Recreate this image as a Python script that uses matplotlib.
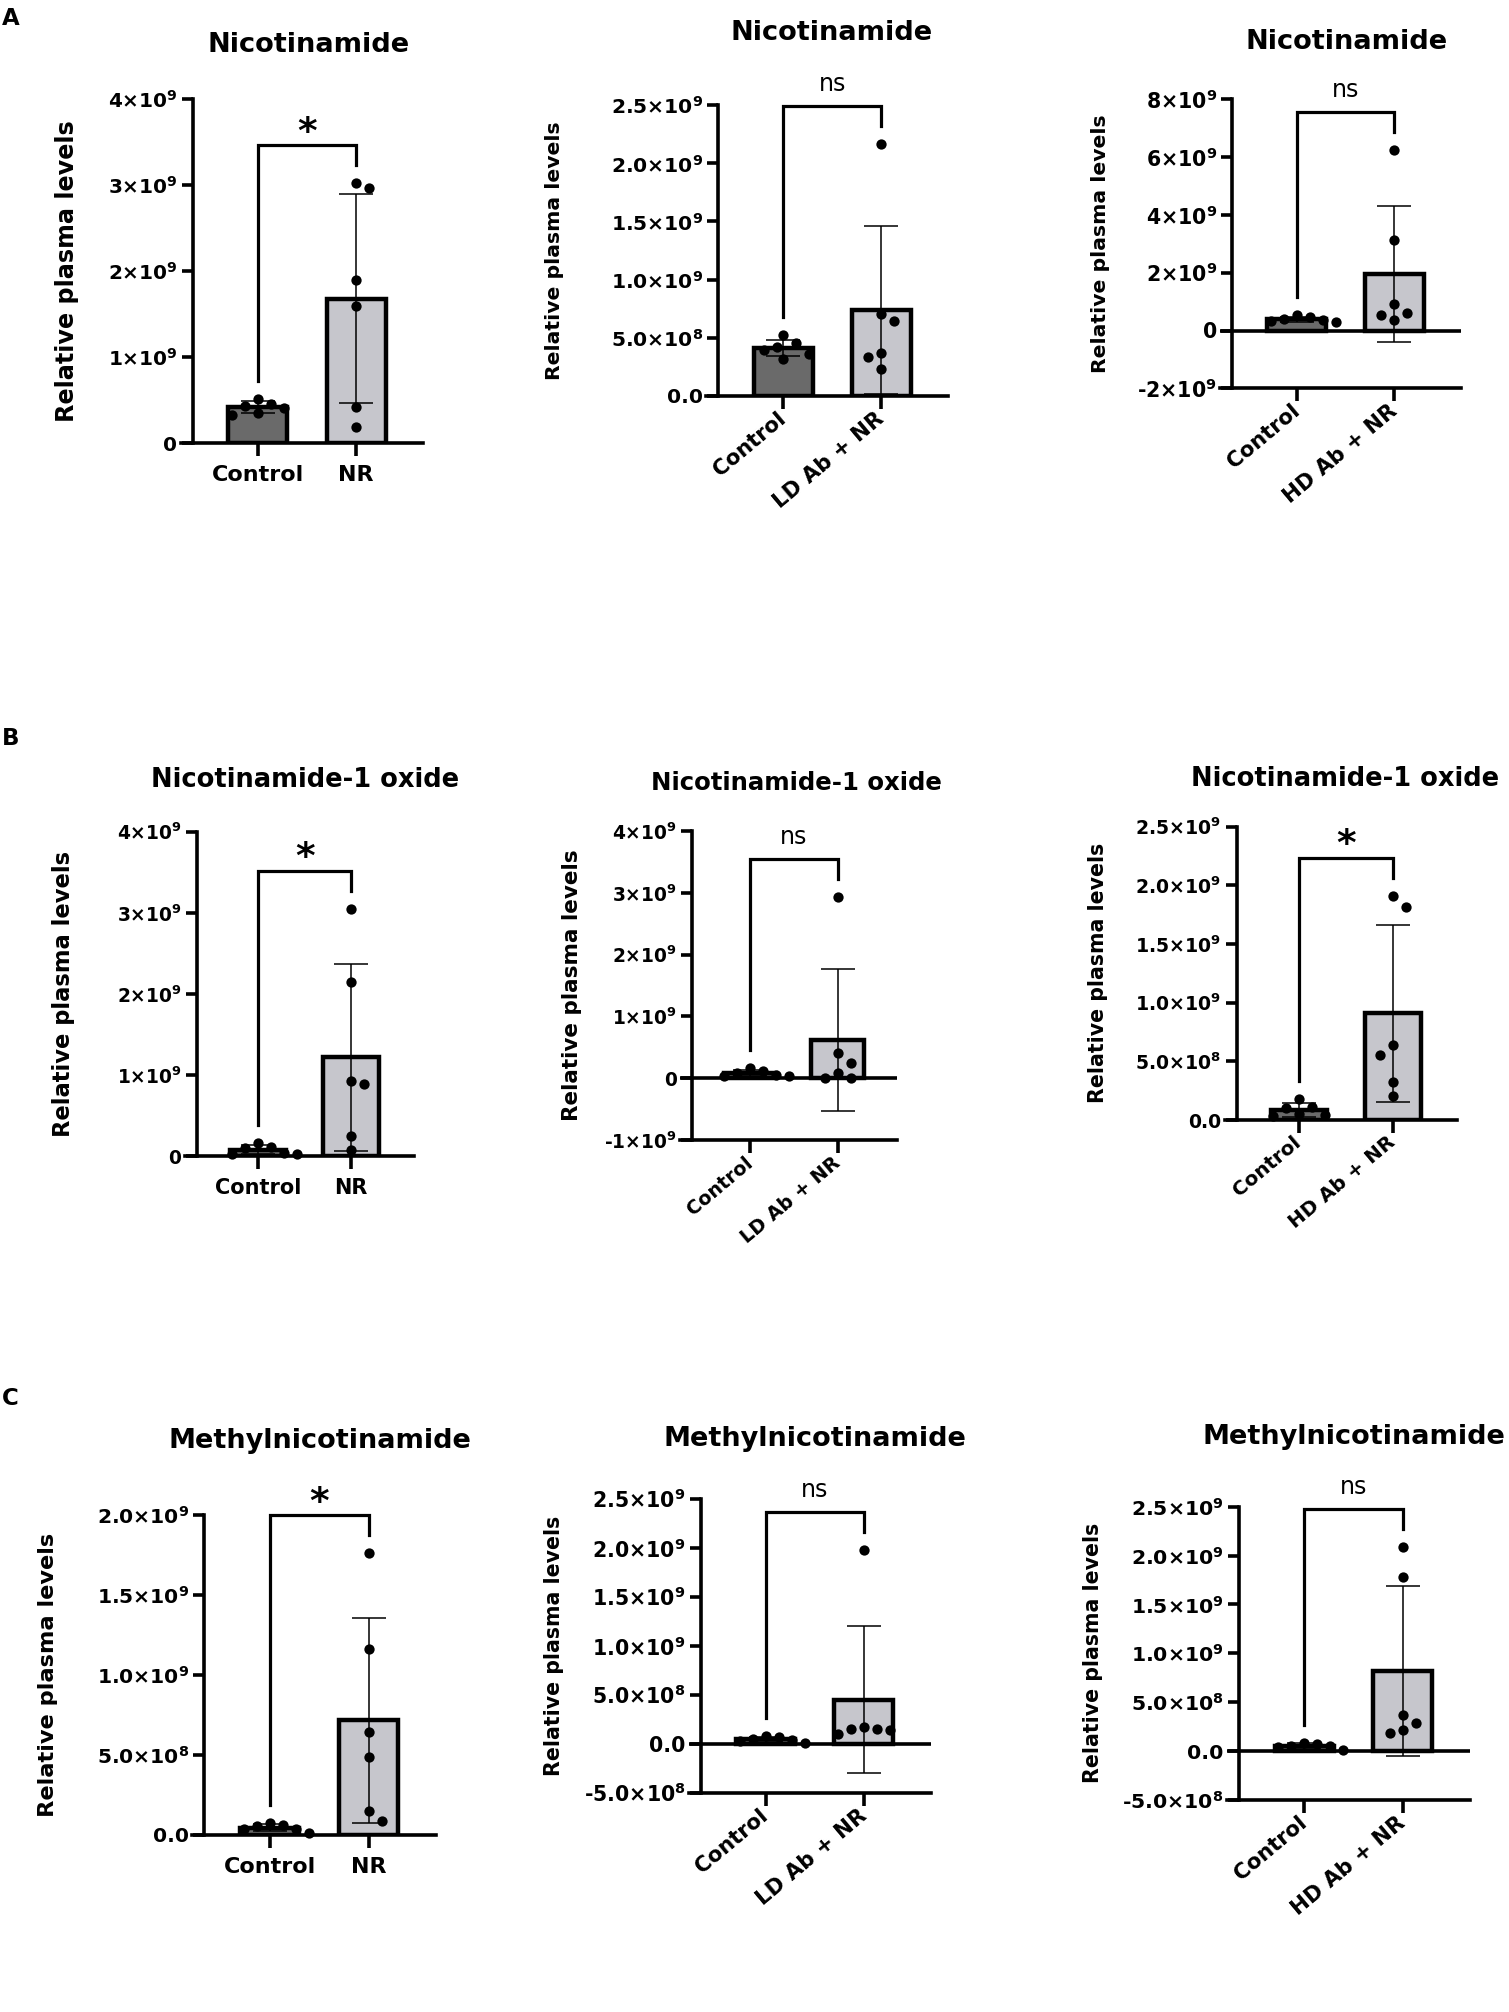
import numpy as np
import matplotlib
matplotlib.use('Agg')
import matplotlib.pyplot as plt

plt.rcParams['font.family'] = ['DejaVu Sans']
plt.rcParams['mathtext.fontset'] = 'dejavusans'

W, H = 1509, 2012

# ---- data (plasma levels, in units of 1e9) ----
titles = ['Nicotinamide', 'Nicotinamide', 'Nicotinamide',
          'Nicotinamide-1 oxide', 'Nicotinamide-1 oxide', 'Nicotinamide-1 oxide',
          'Methylnicotinamide', 'Methylnicotinamide', 'Methylnicotinamide']
group_labels = [['Control', 'NR'], ['Control', 'LD Ab + NR'], ['Control', 'HD Ab + NR']] * 3

a1_ctrl = [0.46, 0.33, 0.43, 0.52, 0.35, 0.41]
a1_trt = [2.97, 3.02, 1.90, 1.59, 0.42, 0.19]
a2_ctrl = [0.52, 0.42, 0.32, 0.39, 0.45, 0.36]
a2_trt = [2.17, 0.70, 0.64, 0.364, 0.33, 0.227]
a3_ctrl = [0.38, 0.52, 0.33, 0.45, 0.28, 0.40]
a3_trt = [6.26, 3.12, 0.90, 0.53, 0.59, 0.36]
b1_ctrl = [0.03, 0.11, 0.16, 0.04, 0.10, 0.03]
b1_trt = [3.05, 2.14, 0.89, 0.92, 0.25, 0.074]
b2_ctrl = [0.03, 0.17, 0.05, 0.11, 0.04, 0.09]
b2_trt = [2.94, 0.415, 0.24, 0.09, 0.01, 0.01]
b3_ctrl = [0.11, 0.04, 0.18, 0.10, 0.05, 0.03]
b3_trt = [1.912, 1.818, 0.639, 0.554, 0.327, 0.205]
c1_ctrl = [0.04, 0.065, 0.035, 0.055, 0.075, 0.01]
c1_trt = [1.76, 1.16, 0.646, 0.49, 0.152, 0.09]
c2_ctrl = [0.04, 0.075, 0.05, 0.065, 0.01, 0.03]
c2_trt = [1.973, 0.153, 0.17, 0.143, 0.153, 0.102]
c3_ctrl = [0.04, 0.085, 0.055, 0.075, 0.01, 0.05]
c3_trt = [2.089, 1.782, 0.368, 0.283, 0.215, 0.181]

ctrl_values = [a1_ctrl, a2_ctrl, a3_ctrl, b1_ctrl, b2_ctrl, b3_ctrl, c1_ctrl, c2_ctrl, c3_ctrl]
trt_values = [a1_trt, a2_trt, a3_trt, b1_trt, b2_trt, b3_trt, c1_trt, c2_trt, c3_trt]
significance = ['*', 'ns', 'ns', '*', 'ns', '*', '*', 'ns', 'ns']

y_limits = [(0, 4), (0, 2.5), (-2, 8), (0, 4), (-1, 4), (0, 2.5), (0, 2), (-0.5, 2.5), (-0.5, 2.5)]
y_ticks = [[0, 1, 2, 3, 4], [0, 0.5, 1, 1.5, 2, 2.5], [-2, 0, 2, 4, 6, 8],
           [0, 1, 2, 3, 4], [-1, 0, 1, 2, 3, 4], [0, 0.5, 1, 1.5, 2, 2.5],
           [0, 0.5, 1, 1.5, 2], [-0.5, 0, 0.5, 1, 1.5, 2, 2.5], [-0.5, 0, 0.5, 1, 1.5, 2, 2.5]]
lab_int4 = ['0', '1×10^9', '2×10^9', '3×10^9', '4×10^9']
lab_25 = ['0.0', '5.0×10^8', '1.0×10^9', '1.5×10^9', '2.0×10^9', '2.5×10^9']
y_tick_labels = [lab_int4, lab_25, ['-2×10^9', '0', '2×10^9', '4×10^9', '6×10^9', '8×10^9'],
                 lab_int4, ['-1×10^9', '0', '1×10^9', '2×10^9', '3×10^9', '4×10^9'], lab_25,
                 lab_25[:5], ['-5.0×10^8'] + lab_25, ['-5.0×10^8'] + lab_25]
panel_letters = ['A', 'B', 'C']

# ---- layout (pixels of the output image) ----
# y-axis x, category spacing, top of y-axis, bottom of y-axis
geom = [(192.7, 98.4, 99, 443.3), (718.3, 98.3, 105.3, 395.7), (1232.3, 97.6, 99.3, 388.3),
        (196.7, 93, 831.7, 1156), (692.3, 87.6, 831, 1140), (1236.7, 94, 826.7, 1120),
        (204.3, 99, 1515, 1835), (700.7, 98.3, 1498.7, 1792.7), (1239, 98.7, 1506.7, 1800)]
title_pos = [(309, 45), (832, 33), (1347, 42), (305, 780), (796, 783), (1345, 779),
             (320, 1441), (815, 1439), (1354, 1437)]
ylabel_x = [66.7, 555, 1100, 64, 572, 1098, 48.3, 554, 1093]
# tick label size, category label size, y label size, title size
sizes = [(14.4, 16, 17.2, 19.6), (14.6, 15.3, 14.7, 19.6), (14.8, 15.3, 14.7, 19.6),
         (13.4, 15, 16.3, 18.5), (13.4, 13.8, 15.5, 17.6), (13.6, 14.3, 14.8, 18.5),
         (14.6, 16, 16.2, 19.5), (14.8, 15.3, 14.8, 19.5), (14.7, 15.3, 14.8, 19.5)]
letter_pos = [(2, 7), (2, 727), (2, 1387)]

dark = '#6a6a6a'
light = '#c6c6cc'
lw_axis = 2.6


def to_math(s):
    if '×' not in s:
        return s
    sign = ''
    if s.startswith('-'):
        sign, s = '-', s[1:]
    mant, exp = s.split('×10^')
    return sign + r'$\mathbf{' + mant + r'{\times}10^{' + exp + '}}$'


def swarm(ax, xc, vals, dd=13.0, step=6.5):
    # simple beeswarm in pixel space
    tr = ax.transData
    ypx = [tr.transform((xc, v))[1] for v in vals]
    ppx = tr.transform((1, 0))[0] - tr.transform((0, 0))[0]
    placed = []
    xs = [xc] * len(vals)
    for i in np.argsort(vals)[::-1]:
        y = ypx[i]
        off = None
        k = 0
        while off is None:
            cands = [0.0] if k == 0 else [k * step, -k * step]
            if k > 0 and sum(p[0] for p in placed) > 0:
                cands = cands[::-1]
            for c in cands:
                if all((c - px) ** 2 + (y - py) ** 2 >= dd ** 2 for px, py in placed):
                    off = c
                    break
            k += 1
        placed.append((off, y))
        xs[i] = xc + off / ppx
    return xs


fig = plt.figure(figsize=(W / 100, H / 100), dpi=100)

for i in range(9):
    yx, sp, top, bot = geom[i]
    fs_tick, fs_cat, fs_ylab, fs_title = sizes[i]
    ext = 12
    left_px = yx - ext
    right_px = yx + 2.34 * sp
    ax = fig.add_axes([left_px / W, 1 - bot / H, (right_px - left_px) / W, (bot - top) / H])
    ax.set_xlim(-0.66 - ext / sp, 1.68)
    ymin, ymax = y_limits[i]
    ax.set_ylim(ymin * 1e9, ymax * 1e9)

    for s in ['top', 'right']:
        ax.spines[s].set_visible(False)
    ax.spines['left'].set_position(('data', -0.66))
    ax.spines['left'].set_linewidth(lw_axis)
    ax.spines['bottom'].set_linewidth(lw_axis)
    if ymin < 0:
        ax.axhline(0, color='k', lw=lw_axis, zorder=2.5)

    c = np.array(ctrl_values[i]) * 1e9
    t = np.array(trt_values[i]) * 1e9
    means = [c.mean(), t.mean()]
    sds = [c.std(ddof=1), t.std(ddof=1)]

    ax.bar([0, 1], means, width=0.6, color=[dark, light], edgecolor='k', linewidth=3.2, zorder=2)
    ax.errorbar([0, 1], means, yerr=sds, fmt='none', ecolor='k', elinewidth=1.1,
                capsize=12, capthick=1.1, zorder=3)
    ax.scatter(swarm(ax, 0, c), c, s=55, color='k', zorder=4, clip_on=False, linewidths=0)
    ax.scatter(swarm(ax, 1, t), t, s=55, color='k', zorder=4, clip_on=False, linewidths=0)

    # y axis ticks
    ax.set_yticks(np.array(y_ticks[i]) * 1e9, [to_math(s) for s in y_tick_labels[i]])
    ax.tick_params(axis='y', length=8, width=lw_axis, pad=3, labelsize=fs_tick)
    for lab in ax.get_yticklabels():
        lab.set_fontweight('bold')

    # categories
    rotated = i % 3 != 0
    ax.set_xticks([0, 1], group_labels[i])
    ax.tick_params(axis='x', length=9.5, width=lw_axis, labelsize=fs_cat, pad=6 if not rotated else 5)
    for lab in ax.get_xticklabels():
        lab.set_fontweight('bold')
        if rotated:
            lab.set_rotation(40)
            lab.set_ha('right')
            lab.set_va('center')
            lab.set_rotation_mode('anchor')

    # significance bracket
    dpx = (ymax - ymin) * 1e9 / (bot - top)
    leg_c = max(c.max(), means[0] + sds[0]) + 18 * dpx
    leg_t = max(t.max(), means[1] + sds[1]) + 18 * dpx
    yb = max(leg_c, leg_t) + 20 * dpx
    ax.plot([0, 0, 1, 1], [leg_c, yb, yb, leg_t], color='k', lw=2.3, clip_on=False,
            solid_joinstyle='miter', zorder=5)
    if significance[i] == '*':
        ax.annotate('*', xy=(0.5, yb), xytext=(0, 2), textcoords='offset points',
                    ha='center', va='baseline', fontsize=27, fontweight='bold',
                    annotation_clip=False)
    else:
        ax.annotate(significance[i], xy=(0.5, yb), xytext=(0, 10.7), textcoords='offset points',
                    ha='center', va='baseline', fontsize=17, annotation_clip=False)

    tx, ty = title_pos[i]
    fig.text(tx / W, 1 - ty / H, titles[i], ha='center', va='center',
             fontsize=fs_title, fontweight='bold')
    fig.text(ylabel_x[i] / W, 1 - (top + bot) / 2 / H, 'Relative plasma levels', rotation=90,
             ha='center', va='center', fontsize=fs_ylab, fontweight='bold')

for letter, (lx, ly) in zip(panel_letters, letter_pos):
    fig.text(lx / W, 1 - ly / H, letter, ha='left', va='top', fontsize=16.5, fontweight='bold')

fig.savefig('out.png', dpi=100, facecolor='white')
